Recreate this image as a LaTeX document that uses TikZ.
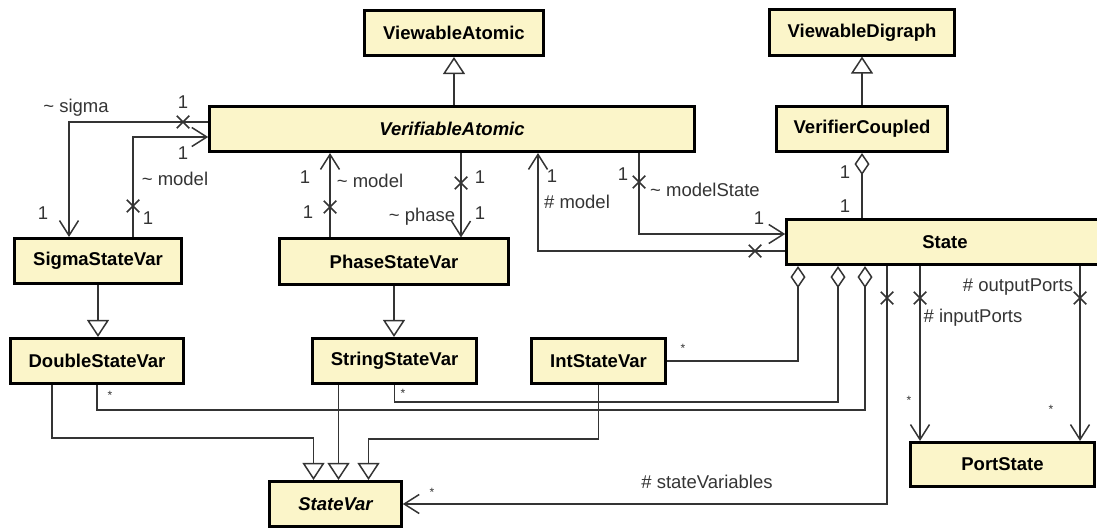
\documentclass[tikz,border=0pt]{standalone}
\usepackage{fontspec}
\setmainfont{Liberation Sans}
\usetikzlibrary{arrows.meta,shapes.misc}
\definecolor{boxfill}{RGB}{251,245,201}
\definecolor{lnk}{RGB}{52,52,52}
\tikzset{
  cls/.style={draw=black,line width=2.6pt,fill=boxfill,minimum height=45.5pt,inner sep=0pt,text=black,font=\fontsize{18.5}{22}\selectfont\bfseries},
  nav/.style={lnk,line width=1.5pt,-{Straight Barb[length=15pt,width=19pt]}},
  gen/.style={lnk,line width=1.5pt,-{Triangle[open,length=17pt,width=22pt,fill=white]}},
  agg/.style={lnk,line width=1.5pt,{Diamond[open,length=22pt,width=15pt,fill=white]}-},
  lnkline/.style={lnk,line width=1.5pt},
  xmk/.style={cross out,draw=lnk,line width=1.5pt,minimum size=11pt,inner sep=0pt},
  lbl/.style={text=lnk,inner sep=0pt},
  mult/.style={text=lnk,inner sep=0pt,font=\fontsize{12}{14}\selectfont}
}
\begin{document}
\begin{tikzpicture}[x=1pt,y=-1pt,font=\fontsize{18.5}{22}\selectfont]
\useasboundingbox(0,0)rectangle(1097,529);
\clip(0,0)rectangle(1097,529);
% classes
\node[cls,minimum width=179pt](vwa)at(454,33){ViewableAtomic};
\node[cls,minimum width=185pt](vwd)at(862,32.5){ViewableDigraph};
\node[cls,minimum width=485pt](va)at(452,129){\itshape VerifiableAtomic};
\node[cls,minimum width=171pt](vc)at(862,129){VerifierCoupled};
\node[cls,minimum width=317pt](st)at(945,242){State};
\node[cls,minimum width=167pt](sig)at(98,261){SigmaStateVar};
\node[cls,minimum width=229pt](pha)at(394,261.5){PhaseStateVar};
\node[cls,minimum width=173pt](dbl)at(97,361){DoubleStateVar};
\node[cls,minimum width=164pt](str)at(394.5,361){StringStateVar};
\node[cls,minimum width=134pt](int)at(598.5,361){IntStateVar};
\node[cls,minimum width=132pt](sv)at(335.5,504){\itshape StateVar};
\node[cls,minimum width=184pt,minimum height=44.5pt](ps)at(1002.5,464.5){PortState};
% generalizations
\draw[gen](vwa.south|-va.north)--(vwa.south);
\draw[gen](vc.north)--(vwd.south);
\draw[gen](sig.south)--(sig.south|-dbl.north);
\draw[gen](pha.south)--(pha.south|-str.north);
\draw[gen]([xshift=-45]dbl.south)|-([xshift=-22,yshift=42]sv.north)--([xshift=-22]sv.north);
\draw[gen]([xshift=-56]str.south)--([xshift=-56]str.south|-sv.north);
\draw[gen](int.south)|-([xshift=33,yshift=41]sv.north)--([xshift=33]sv.north);
% associations
\draw[nav]([yshift=7]va.west)-|([xshift=-29]sig.north);
\draw[nav]([xshift=35]sig.north)|-([yshift=-8]va.west);
\draw[nav]([xshift=-64]pha.north)--([xshift=-64]pha.north|-va.south);
\draw[nav]([xshift=67]pha.north|-va.south)--([xshift=67]pha.north);
\draw[nav]([yshift=-9]st.west)-|([xshift=86]va.south);
\draw[nav]([xshift=187]va.south)|-([yshift=8]st.west);
\draw[nav]([xshift=-58]st.south)|-(sv.east);
\draw[nav]([xshift=-25]st.south)--([xshift=-25]st.south|-ps.north);
\draw[nav]([xshift=135]st.south)--([xshift=135]st.south|-ps.north);
% aggregations
\draw[agg](vc.south)--(vc.south|-st.north);
\draw[agg]([xshift=-147]st.south)|-(int.east);
\draw[agg]([xshift=-107]st.south)|-([yshift=-17]str.south)--(str.south);
\draw[agg]([xshift=-80]st.south)|-([yshift=-25]dbl.south)--(dbl.south);
% non-navigable ends
\foreach[count=\i]\x/\y in{183/122,133/206,330/207,461/183,755/251,639/182,887/298,920/298,1080/298}{\node[xmk](x\i)at(\x,\y){};}
% role names and multiplicities
\foreach[count=\i]\x/\y/\t in{183/102/1,183/153/1,43/213/1,148/218/1,76/108/{\textasciitilde\ sigma},175/179/{\textasciitilde\ model},
  305/177/1,308/212/1,370/181/{\textasciitilde\ model},480/177/1,480/213/1,422/217/{\textasciitilde\ phase},
  552/176/1,577/202/{\# model},623/174/1,705/190/{\textasciitilde\ modelState},759/218/1,845/172/1,845/206/1,
  1018/287/{\# outputPorts},973/318/{\# inputPorts},707/482/{\# stateVariables}}{\node[lbl](lb\i)at(\x,\y){\t};}
\foreach[count=\i]\x/\y in{909/400,1051/409,683/348,110/395,403/393,432/492}{\node[mult](m\i)at(\x,\y){*};}
\end{tikzpicture}
\end{document}
